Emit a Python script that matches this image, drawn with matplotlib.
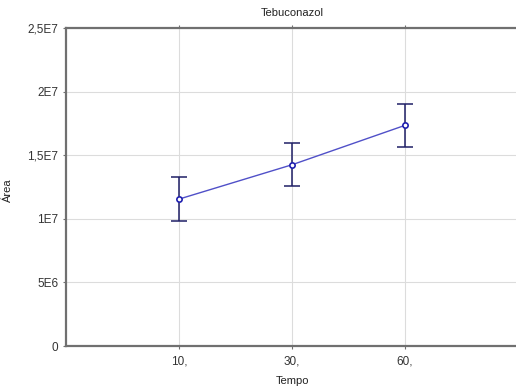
import matplotlib.pyplot as plt

# Tebuconazol peak area vs. time (mean +/- error)
tempo = ["10,", "30,", "60,"]
area_mean = [1.155e7, 1.425e7, 1.735e7]
area_err = [1.70e6, 1.70e6, 1.68e6]

y_ticks = [0, 5e6, 1e7, 1.5e7, 2e7, 2.5e7]
y_tick_labels = ["0", "5E6", "1E7", "1,5E7", "2E7", "2,5E7"]

plt.rcParams["font.family"] = ["Liberation Sans", "DejaVu Sans"]

fig = plt.figure(figsize=(5.16, 3.9), dpi=100)
ax = fig.add_axes([0.128, 0.1128, 0.876, 0.8154])

x = list(range(1, len(tempo) + 1))
ax.errorbar(x, area_mean, yerr=area_err, fmt="none", ecolor="#1f1f66",
            elinewidth=1.1, capsize=5.5, capthick=1.1, zorder=3)
ax.plot(x, area_mean, color="#5050c8", lw=1.0, marker="o", ms=3.8,
        mfc="white", mec="#2020b0", mew=1.2, zorder=4)

ax.set_xlim(0, 4)
ax.set_ylim(0, 2.5e7)
ax.set_xticks(x)
ax.set_xticklabels(tempo)
ax.set_yticks(y_ticks)
ax.set_yticklabels(y_tick_labels)

ax.grid(True, color="#dcdcdc", lw=0.8)
ax.set_axisbelow(True)
for side in ["left", "bottom", "top"]:
    ax.spines[side].set_color("#707070")
    ax.spines[side].set_linewidth(1.6)
ax.spines["right"].set_visible(False)
ax.tick_params(axis="both", labelsize=8.5, colors="#707070", labelcolor="#333333",
               length=2, width=0.8, top=True)
ax.tick_params(axis="x", pad=5)

ax.set_title("Tebuconazol", fontsize=8, color="#222222", pad=9)
ax.set_xlabel("Tempo", fontsize=8, color="#222222", labelpad=6)
ax.set_ylabel("Área", fontsize=8, color="#222222")
ax.yaxis.set_label_coords(-0.118, 0.49)

plt.savefig("out.png", dpi=100)
